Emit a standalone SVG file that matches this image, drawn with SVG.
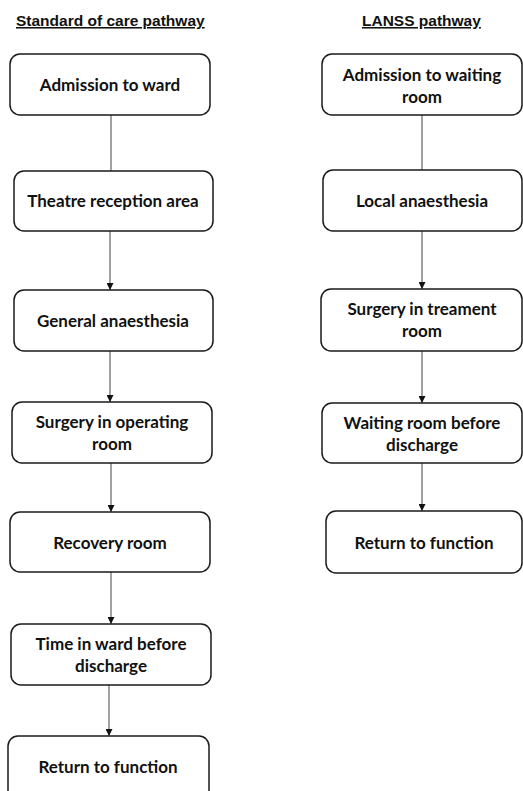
<svg xmlns="http://www.w3.org/2000/svg" width="523" height="791" viewBox="0 0 523 791">
<style>
.box{fill:#fff;stroke:#1a1a1a;stroke-width:1.5}
.lbl{font-family:Lato,"Open Sans",sans-serif;font-weight:bold;font-size:17px;fill:#111;text-anchor:middle}
.ttl{font-family:"Liberation Sans",Arial,sans-serif;font-weight:bold;font-size:15.5px;fill:#111;text-decoration:underline}
.con{stroke:#444;stroke-width:1;fill:none}
</style>
<defs>
<marker id="arr" viewBox="0 0 10 10" refX="10" refY="5" markerWidth="7" markerHeight="7" markerUnits="userSpaceOnUse" orient="auto">
<path d="M0,0 L10,5 L0,10 Z" fill="#111"/>
</marker>
</defs>
<rect width="523" height="791" fill="#fff"/>
<text class="ttl" x="16" y="26">Standard of care pathway</text>
<text class="ttl" x="362" y="26">LANSS pathway</text>
<g id="connectors">
<line class="con" x1="111" y1="115" x2="111" y2="171"/>
<line class="con" x1="110" y1="231" x2="110" y2="290" marker-end="url(#arr)"/>
<line class="con" x1="110" y1="351" x2="110" y2="402" marker-end="url(#arr)"/>
<line class="con" x1="111" y1="463" x2="111" y2="512" marker-end="url(#arr)"/>
<line class="con" x1="111" y1="572" x2="111" y2="624" marker-end="url(#arr)"/>
<line class="con" x1="109" y1="685" x2="109" y2="736" marker-end="url(#arr)"/>
<line class="con" x1="422" y1="115" x2="422" y2="170"/>
<line class="con" x1="422" y1="231" x2="422" y2="289" marker-end="url(#arr)"/>
<line class="con" x1="422" y1="351" x2="422" y2="403" marker-end="url(#arr)"/>
<line class="con" x1="422" y1="463" x2="422" y2="511" marker-end="url(#arr)"/>
</g>
<g id="s1"><rect class="box" x="10" y="54" width="200" height="61" rx="10"/><text class="lbl" x="110" y="91">Admission to ward</text></g>
<g id="s2"><rect class="box" x="14" y="171" width="199" height="60" rx="10"/><text class="lbl" x="113" y="207">Theatre reception area</text></g>
<g id="s3"><rect class="box" x="14" y="290" width="199" height="61" rx="10"/><text class="lbl" x="113" y="327">General anaesthesia</text></g>
<g id="s4"><rect class="box" x="12" y="402" width="200" height="61" rx="10"/><text class="lbl" x="112" y="428">Surgery in operating</text><text class="lbl" x="112" y="450">room</text></g>
<g id="s5"><rect class="box" x="10" y="512" width="200" height="60" rx="10"/><text class="lbl" x="110" y="549">Recovery room</text></g>
<g id="s6"><rect class="box" x="11" y="624" width="200" height="61" rx="10"/><text class="lbl" x="111" y="650">Time in ward before</text><text class="lbl" x="111" y="672">discharge</text></g>
<g id="s7"><rect class="box" x="8" y="736" width="201" height="70" rx="10"/><text class="lbl" x="108" y="773">Return to function</text></g>
<g id="l1"><rect class="box" x="322" y="54" width="200" height="61" rx="10"/><text class="lbl" x="422" y="81">Admission to waiting</text><text class="lbl" x="422" y="103">room</text></g>
<g id="l2"><rect class="box" x="323" y="170" width="199" height="61" rx="10"/><text class="lbl" x="422" y="207">Local anaesthesia</text></g>
<g id="l3"><rect class="box" x="321" y="289" width="201" height="62" rx="10"/><text class="lbl" x="422" y="315">Surgery in treament</text><text class="lbl" x="422" y="337">room</text></g>
<g id="l4"><rect class="box" x="322" y="403" width="200" height="60" rx="10"/><text class="lbl" x="422" y="429">Waiting room before</text><text class="lbl" x="422" y="451">discharge</text></g>
<g id="l5"><rect class="box" x="326" y="511" width="196" height="62" rx="10"/><text class="lbl" x="424" y="549">Return to function</text></g>
</svg>
